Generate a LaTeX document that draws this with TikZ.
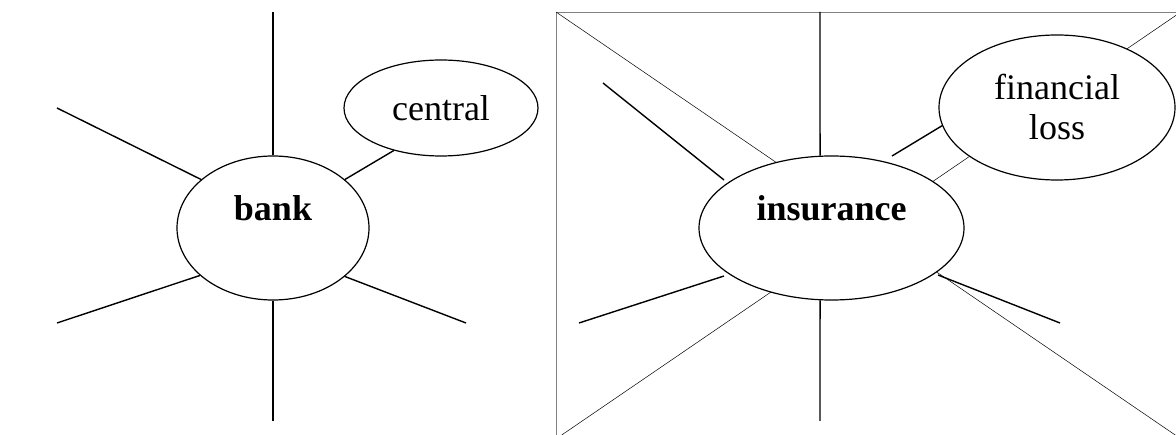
\documentclass[tikz,border=0pt]{standalone}
\usepackage{fontspec}
\setmainfont{Liberation Serif}
\usetikzlibrary{shapes.geometric}
\newcommand{\bubblefont}{\fontsize{36pt}{40pt}\selectfont}
\begin{document}
\begin{tikzpicture}[x=1pt,y=-1pt,
    bubble/.style={ellipse,draw,line width=1.2pt,fill=white,inner sep=0pt,align=center,font=\bubblefont},
    spoke/.style={line width=1.4pt},
    crossline/.style={line width=0.5pt}]
    \clip (0,0) rectangle (1176,435);
    \node[draw=gray,line width=0.9pt,minimum width=624pt,minimum height=426pt,inner sep=0pt,anchor=north west] (frame) at (556,12) {};
    \draw[crossline] (frame.north west) -- (frame.south east);
    \draw[crossline] (frame.south west) -- (frame.north east);
    \node[bubble,minimum width=192pt,minimum height=144pt] (bank) at (273,228) {\textbf{bank}\\\mbox{}};
    \node[bubble,minimum width=194pt,minimum height=96pt] (central) at (441,108) {central};
    \node[bubble,minimum width=265pt,minimum height=144pt] (insurance) at (831.5,228) {\textbf{insurance}\\\mbox{}};
    \node[bubble,minimum width=236pt,minimum height=145pt] (loss) at (1057,107.5) {financial\\loss};
    \foreach \ang/\x/\y in {90/273/12,146/57/108,213/57/323,270/273/421,326/466/323}{
        \coordinate (bank end \ang) at (\x,\y);
        \draw[spoke] (bank.\ang) -- (bank end \ang);
    }
    \draw[spoke] (bank.34) -- (central.222);
    \foreach \ang/\x/\y in {99/820/12,261/820/421}{
        \coordinate (ins end \ang) at (\x,\y);
        \draw[spoke] (insurance.\ang) -- (ins end \ang);
    }
    \coordinate (ul a) at (603,83);  \coordinate (ul b) at (724,180);
    \coordinate (ll a) at (579,323); \coordinate (ll b) at (724,276);
    \coordinate (lr a) at (938,275); \coordinate (lr b) at (1060,323);
    \coordinate (ur a) at (892,156);
    \draw[spoke] (ul a) -- (ul b);
    \draw[spoke] (ll a) -- (ll b);
    \draw[spoke] (lr a) -- (lr b);
    \draw[spoke] (ur a) -- (loss.189);
\end{tikzpicture}
\end{document}
